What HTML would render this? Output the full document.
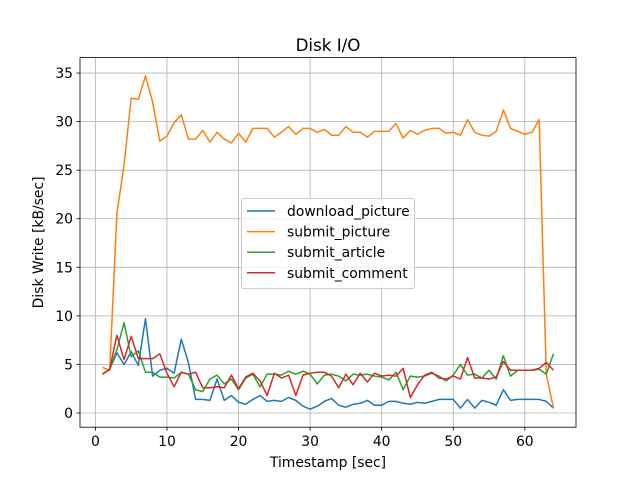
<!DOCTYPE html>
<html><head><meta charset="utf-8"><style>
body{margin:0;background:#fff}
svg{display:block;font-family:"DejaVu Sans","Liberation Sans",sans-serif}
</style></head><body>
<svg id="c" width="640" height="480"></svg>
<script>
const xTicks=[0,10,20,30,40,50,60];
const yTicks=[0,5,10,15,20,25,30,35];
const seriesNames=["download_picture","submit_picture","submit_article","submit_comment"];
const colors=["#1f77b4","#ff7f0e","#2ca02c","#d62728"];
const downloadPicture=[4.0,4.5,6.2,5.0,6.3,4.9,9.7,3.8,4.4,4.6,4.1,7.6,5.2,1.4,1.4,1.3,3.5,1.3,1.8,1.1,0.9,1.4,1.8,1.2,1.3,1.2,1.6,1.3,0.7,0.4,0.7,1.2,1.5,0.8,0.6,0.9,1.0,1.3,0.8,0.8,1.2,1.2,1.0,0.9,1.1,1.0,1.2,1.4,1.4,1.4,0.5,1.4,0.5,1.3,1.1,0.8,2.4,1.3,1.4,1.4,1.4,1.4,1.2,0.5];
const submitPicture=[4.7,4.4,20.5,25.5,32.4,32.3,34.7,32.0,28.0,28.5,29.9,30.7,28.2,28.2,29.1,27.9,28.9,28.2,27.8,28.8,27.9,29.3,29.3,29.3,28.4,28.9,29.5,28.7,29.3,29.3,28.9,29.2,28.6,28.6,29.5,28.9,28.9,28.4,29.0,29.0,29.0,29.8,28.3,29.1,28.7,29.1,29.3,29.3,28.8,28.9,28.6,30.2,28.9,28.6,28.5,29.0,31.2,29.3,29.0,28.7,28.9,30.2,4.0,0.5];
const submitArticle=[4.0,4.5,6.5,9.3,5.8,6.4,4.2,4.2,3.7,3.7,3.6,4.2,4.0,2.4,2.2,3.5,3.9,3.0,3.5,2.4,3.6,4.0,2.7,4.0,4.0,3.9,4.3,4.0,4.3,4.0,3.0,3.9,4.0,3.8,3.3,4.0,3.9,4.0,3.8,3.7,3.4,4.2,2.4,3.8,3.7,3.8,4.1,3.8,3.3,3.9,5.0,3.9,4.0,3.6,4.4,3.5,5.9,3.8,4.4,4.4,4.4,4.5,4.0,6.1];
const submitComment=[4.0,4.5,8.0,5.5,7.9,5.6,5.6,5.6,6.1,4.1,2.7,4.2,4.0,4.2,2.6,2.6,2.7,2.6,3.9,2.5,3.7,4.1,3.3,1.8,4.1,3.6,3.9,1.8,3.9,4.1,4.2,4.2,3.8,2.6,4.0,2.9,4.1,3.2,4.1,3.8,3.9,3.8,4.6,1.6,2.9,3.9,4.2,3.6,3.5,3.8,3.5,5.7,3.6,3.6,3.5,3.7,5.3,4.4,4.4,4.4,4.4,4.6,5.2,4.4];
const allSeries=[downloadPicture,submitPicture,submitArticle,submitComment];

const L=80,R=576,T=57.6,B=427.2;
const x0=-2.15,x1=67.15,y0=-1.46,y1=36.59;
const sx=v=>L+(v-x0)/(x1-x0)*(R-L);
const sy=v=>B-(v-y0)/(y1-y0)*(B-T);
const svg=document.getElementById('c');
const NS='http://www.w3.org/2000/svg';
function mk(tag,attrs,parent){const e=document.createElementNS(NS,tag);for(const k in attrs)e.setAttribute(k,attrs[k]);(parent||svg).appendChild(e);return e;}
const FS=13.9;

const grid=mk('g',{});


const xa=mk('g',{});


xTicks.forEach(t=>{const x=sx(t);
 mk('line',{x1:x,x2:x,y1:T,y2:B,stroke:'#b0b0b0','stroke-width':0.8},grid);
 mk('line',{x1:x,x2:x,y1:B,y2:B+3.5,stroke:'#000','stroke-width':0.8},xa);
 const tx=mk('text',{x:x,y:B+19,'text-anchor':'middle','font-size':FS},xa);tx.textContent=t;
 
 });
const ya=mk('g',{});


yTicks.forEach(t=>{const y=sy(t);
 mk('line',{x1:L,x2:R,y1:y,y2:y,stroke:'#b0b0b0','stroke-width':0.8},grid);
 mk('line',{x1:L-3.5,x2:L,y1:y,y2:y,stroke:'#000','stroke-width':0.8},ya);
 const tx=mk('text',{x:L-7,y:y+5,'text-anchor':'end','font-size':FS},ya);tx.textContent=t;
 
 });

allSeries.forEach((s,i)=>{
 const p=mk('polyline',{points:s.map((v,j)=>sx(j+1)+','+sy(v)).join(' '),fill:'none',stroke:colors[i],'stroke-width':1.5,'stroke-linejoin':'round'});
 
 
});
mk('rect',{x:L,y:T,width:R-L,height:B-T,fill:'none',stroke:'#000','stroke-width':0.8});

const title=mk('text',{x:(L+R)/2,y:51,'text-anchor':'middle','font-size':16.7});title.textContent='Disk I/O';


const xt=mk('text',{x:(L+R)/2,y:467,'text-anchor':'middle','font-size':FS});xt.textContent='Timestamp [sec]';


const yt=mk('text',{x:0,y:0,'text-anchor':'middle','font-size':FS,transform:'translate(43,'+((T+B)/2)+') rotate(-90)'});yt.textContent='Disk Write [kB/sec]';



const lg=mk('g',{});


mk('rect',{x:241.5,y:198.5,width:173,height:90,rx:2,fill:'#fff','fill-opacity':0.8,stroke:'#ccc','stroke-width':1},lg);
seriesNames.forEach((n,i)=>{const y=211+i*20.6;
 const g=mk('g',{},lg);
 
 
 mk('line',{x1:247,x2:275,y1:y,y2:y,stroke:colors[i],'stroke-width':1.5},g);
 const t=mk('text',{x:287,y:y+5,'font-size':FS},g);t.textContent=n;});
</script>
</body></html>
